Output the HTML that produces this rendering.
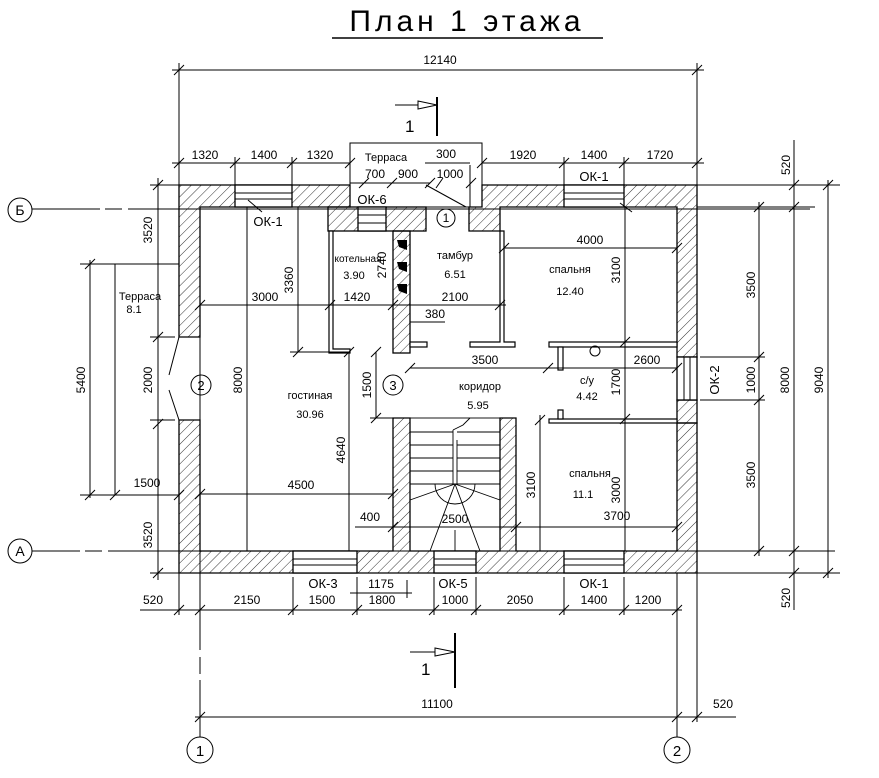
<!DOCTYPE html>
<html><head><meta charset="utf-8"><style>
html,body{margin:0;padding:0;background:#fff;}
svg{display:block;}
text{font-family:"Liberation Sans Narrow","Liberation Sans",sans-serif;fill:#000;}
</style></head><body>
<svg width="879" height="778" viewBox="0 0 879 778" xmlns="http://www.w3.org/2000/svg">
<defs>
<pattern id="h" patternUnits="userSpaceOnUse" width="7" height="7" patternTransform="rotate(45)">
<line x1="0" y1="0" x2="0" y2="7" stroke="#000" stroke-width="0.8"/>
</pattern>
</defs>
<g font-size="12">
<!-- title -->
<text x="467" y="31" font-size="30" text-anchor="middle" letter-spacing="4">План 1 этажа</text>
<line x1="332" y1="38" x2="603" y2="38" stroke="#000" stroke-width="1.5"/>

<g stroke="#000" stroke-width="1" fill="none">
<line x1="172" y1="70" x2="704" y2="70"/>
<line x1="179" y1="63" x2="179" y2="185"/><line x1="697" y1="63" x2="697" y2="185"/>
<line x1="174" y1="75" x2="184" y2="65"/><line x1="692" y1="75" x2="702" y2="65"/>
<line x1="172" y1="163" x2="350" y2="163"/>
<line x1="482" y1="163" x2="704" y2="163"/>
<line x1="235" y1="157" x2="235" y2="185"/><line x1="292" y1="157" x2="292" y2="185"/>
<line x1="564" y1="157" x2="564" y2="185"/><line x1="624" y1="157" x2="624" y2="185"/>
<g>
<line x1="174" y1="168" x2="184" y2="158"/><line x1="230" y1="168" x2="240" y2="158"/><line x1="287" y1="168" x2="297" y2="158"/><line x1="345" y1="168" x2="355" y2="158"/>
<line x1="477" y1="168" x2="487" y2="158"/><line x1="559" y1="168" x2="569" y2="158"/><line x1="619" y1="168" x2="629" y2="158"/><line x1="692" y1="168" x2="702" y2="158"/>
</g>
<line x1="437" y1="97" x2="437" y2="136" stroke-width="2"/>
<line x1="395" y1="105" x2="418" y2="105"/>
<polygon points="418,101 437,105 418,109"/>
<line x1="455" y1="633" x2="455" y2="688" stroke-width="2"/>
<line x1="410" y1="652" x2="435" y2="652"/>
<polygon points="435,648 455,652 435,656"/>

<rect x="350" y="143" width="132" height="64"/>
<line x1="425" y1="163" x2="470" y2="163"/>
<line x1="350" y1="183" x2="430" y2="183"/>
<line x1="359" y1="188" x2="369" y2="178"/><line x1="387" y1="188" x2="397" y2="178"/><line x1="425" y1="188" x2="435" y2="178"/>
<line x1="436" y1="188" x2="443" y2="178"/><line x1="466" y1="188" x2="476" y2="178"/>
<line x1="470" y1="165" x2="470" y2="207"/>
<line x1="426" y1="185" x2="466" y2="207"/>

<polyline points="179,264 115,264 115,495 179,495"/>
</g>

<g fill="url(#h)" stroke="#000" stroke-width="1.3">
<polygon points="179,185 350,185 350,207 200,207 200,337 179,337"/>
<polygon points="179,420 200,420 200,551 393,551 393,418 410,418 410,551 500,551 500,418 516,418 516,551 677,551 677,423 697,423 697,573 179,573"/>
<polygon points="482,185 697,185 697,357 677,357 677,207 500,207 500,231 469,231 469,207 482,207"/>
<rect x="677" y="400" width="20" height="23"/>
<rect x="328" y="207" width="98" height="24"/>
<rect x="393" y="231" width="17" height="122"/>
</g>
<g fill="#fff" stroke="#000" stroke-width="1.3">
<rect x="235" y="185" width="57" height="22"/>
<rect x="564" y="185" width="60" height="22"/>
<rect x="358" y="207" width="28" height="24"/>
<rect x="677" y="357" width="20" height="43"/>
<rect x="293" y="551" width="64" height="22"/>
<rect x="434" y="551" width="42" height="22"/>
<rect x="564" y="551" width="60" height="22"/>
</g>
<g stroke="#000" stroke-width="1" fill="none">
<line x1="235" y1="193" x2="292" y2="193"/><line x1="235" y1="199" x2="292" y2="199"/>
<line x1="564" y1="193" x2="624" y2="193"/><line x1="564" y1="199" x2="624" y2="199"/>
<line x1="358" y1="215" x2="386" y2="215"/><line x1="358" y1="223" x2="386" y2="223"/>
<line x1="684" y1="357" x2="684" y2="400"/><line x1="690" y1="357" x2="690" y2="400"/>
<line x1="293" y1="559" x2="357" y2="559"/><line x1="293" y1="565" x2="357" y2="565"/>
<line x1="434" y1="559" x2="476" y2="559"/><line x1="434" y1="565" x2="476" y2="565"/>
<line x1="564" y1="559" x2="624" y2="559"/><line x1="564" y1="565" x2="624" y2="565"/>
<line x1="179" y1="337" x2="169" y2="375"/><line x1="169" y1="390" x2="179" y2="420"/>
<line x1="248" y1="200" x2="262" y2="212"/>
<line x1="620" y1="203" x2="632" y2="212"/>
</g>
<g fill="#000">
<polygon points="397,240 407,240 407,250 399,247"/>
<polygon points="397,262 407,262 407,272 399,269"/>
<polygon points="397,284 407,284 407,294 399,291"/>
</g>
<g stroke="#000" stroke-width="1.2" fill="#fff">
<polygon points="329,231 333,231 333,349 350,349 350,353 329,353"/>
<polygon points="500,231 504,231 504,342 515,342 515,347 470,347 470,342 500,342"/>
<rect x="549" y="342" width="128" height="5"/>
<rect x="558" y="347" width="5" height="23"/>
<rect x="549" y="419" width="128" height="4"/>
<rect x="558" y="410" width="5" height="9"/>
<rect x="410" y="342" width="17" height="5"/>
</g>
<circle cx="595" cy="351" r="5" fill="none" stroke="#000"/>

<g stroke="#000" stroke-width="0.9" fill="none">
<rect x="410" y="418" width="90" height="133"/>
<line x1="410" y1="432" x2="453" y2="432"/><line x1="410" y1="445" x2="453" y2="445"/><line x1="410" y1="458" x2="453" y2="458"/><line x1="410" y1="471" x2="453" y2="471"/><line x1="410" y1="484" x2="455" y2="484"/>
<line x1="457" y1="432" x2="500" y2="432"/><line x1="457" y1="445" x2="500" y2="445"/><line x1="457" y1="458" x2="500" y2="458"/><line x1="457" y1="471" x2="500" y2="471"/><line x1="455" y1="484" x2="500" y2="484"/>
<line x1="453" y1="430" x2="453" y2="484"/><line x1="457" y1="440" x2="457" y2="484"/>
<polyline points="453,430 463,425 470,418"/>
<line x1="455" y1="484" x2="410" y2="500"/><line x1="455" y1="484" x2="430" y2="551"/><line x1="455" y1="484" x2="480" y2="551"/><line x1="455" y1="484" x2="500" y2="500"/>
<path d="M435,484 A20,20 0 0 0 475,484"/>
<line x1="455" y1="530" x2="455" y2="551"/>
</g>

<g stroke="#000" stroke-width="1" fill="none">
<circle cx="20" cy="210" r="12"/><circle cx="20" cy="551" r="12"/>
<line x1="32" y1="209" x2="100" y2="209"/><line x1="105" y1="209" x2="122" y2="209"/><line x1="128" y1="209" x2="810" y2="209"/>
<line x1="32" y1="551" x2="80" y2="551"/><line x1="85" y1="551" x2="102" y2="551"/><line x1="108" y1="551" x2="835" y2="551"/>
<circle cx="200" cy="750" r="13"/><circle cx="677" cy="750" r="13"/>
<line x1="200" y1="573" x2="200" y2="650"/><line x1="200" y1="657" x2="200" y2="674"/><line x1="200" y1="680" x2="200" y2="737"/>
<line x1="677" y1="573" x2="677" y2="737"/>
<line x1="697" y1="573" x2="697" y2="722"/>
<line x1="200" y1="207" x2="200" y2="600"/>

<line x1="158" y1="178" x2="158" y2="580"/>
<line x1="153" y1="190" x2="163" y2="180"/><line x1="153" y1="342" x2="163" y2="332"/><line x1="153" y1="429" x2="163" y2="419"/><line x1="153" y1="578" x2="163" y2="568"/>
<line x1="150" y1="185" x2="179" y2="185"/><line x1="150" y1="573" x2="179" y2="573"/>
<line x1="150" y1="337" x2="175" y2="337"/><line x1="150" y1="420" x2="175" y2="420"/>
<line x1="90" y1="260" x2="90" y2="498"/><line x1="80" y1="264" x2="115" y2="264"/><line x1="80" y1="495" x2="115" y2="495"/>
<line x1="85" y1="269" x2="95" y2="259"/><line x1="85" y1="500" x2="95" y2="490"/>
<line x1="110" y1="500" x2="120" y2="490"/><line x1="174" y1="500" x2="184" y2="490"/>

<line x1="140" y1="610" x2="682" y2="610"/>
<line x1="179" y1="573" x2="179" y2="615"/><line x1="293" y1="577" x2="293" y2="615"/><line x1="357" y1="577" x2="357" y2="615"/><line x1="434" y1="577" x2="434" y2="615"/><line x1="476" y1="577" x2="476" y2="615"/><line x1="564" y1="577" x2="564" y2="615"/><line x1="624" y1="577" x2="624" y2="615"/>
<line x1="174" y1="615" x2="184" y2="605"/><line x1="195" y1="615" x2="205" y2="605"/><line x1="288" y1="615" x2="298" y2="605"/><line x1="352" y1="615" x2="362" y2="605"/><line x1="429" y1="615" x2="439" y2="605"/><line x1="471" y1="615" x2="481" y2="605"/><line x1="559" y1="615" x2="569" y2="605"/><line x1="619" y1="615" x2="629" y2="605"/><line x1="672" y1="615" x2="682" y2="605"/>
<line x1="350" y1="593" x2="412" y2="593"/><line x1="407" y1="580" x2="407" y2="598"/>
<line x1="195" y1="717" x2="736" y2="717"/>
<line x1="195" y1="722" x2="205" y2="712"/><line x1="672" y1="722" x2="682" y2="712"/><line x1="692" y1="722" x2="702" y2="712"/>

<line x1="697" y1="185" x2="840" y2="185"/><line x1="697" y1="207" x2="815" y2="207"/>
<line x1="697" y1="573" x2="840" y2="573"/>
<line x1="700" y1="357" x2="765" y2="357"/><line x1="700" y1="400" x2="765" y2="400"/>
<line x1="759" y1="202" x2="759" y2="556"/>
<line x1="794" y1="140" x2="794" y2="610"/>
<line x1="828" y1="180" x2="828" y2="578"/>
<line x1="754" y1="212" x2="764" y2="202"/><line x1="754" y1="362" x2="764" y2="352"/><line x1="754" y1="405" x2="764" y2="395"/><line x1="754" y1="556" x2="764" y2="546"/>
<line x1="789" y1="190" x2="799" y2="180"/><line x1="789" y1="212" x2="799" y2="202"/><line x1="789" y1="556" x2="799" y2="546"/><line x1="789" y1="578" x2="799" y2="568"/>
<line x1="823" y1="190" x2="833" y2="180"/><line x1="823" y1="578" x2="833" y2="568"/>

<line x1="200" y1="305" x2="506" y2="305"/>
<line x1="195" y1="310" x2="205" y2="300"/><line x1="325" y1="310" x2="335" y2="300"/><line x1="388" y1="310" x2="398" y2="300"/><line x1="495" y1="310" x2="505" y2="300"/>
<line x1="298" y1="207" x2="298" y2="352"/><line x1="290" y1="352" x2="350" y2="352"/><line x1="293" y1="357" x2="303" y2="347"/>
<line x1="410" y1="322" x2="445" y2="322"/>
<line x1="504" y1="248" x2="677" y2="248"/><line x1="499" y1="253" x2="509" y2="243"/><line x1="672" y1="253" x2="682" y2="243"/>
<line x1="625" y1="207" x2="625" y2="551"/>
<line x1="620" y1="347" x2="630" y2="337"/><line x1="620" y1="424" x2="630" y2="414"/>
<line x1="410" y1="368" x2="677" y2="368"/><line x1="405" y1="373" x2="415" y2="363"/><line x1="543" y1="373" x2="553" y2="363"/><line x1="672" y1="373" x2="682" y2="363"/>
<line x1="247" y1="207" x2="247" y2="551"/>
<line x1="349" y1="352" x2="349" y2="551"/><line x1="344" y1="357" x2="354" y2="347"/>
<line x1="376" y1="352" x2="376" y2="418"/><line x1="371" y1="357" x2="381" y2="347"/><line x1="371" y1="423" x2="381" y2="413"/><line x1="370" y1="418" x2="393" y2="418"/>
<line x1="200" y1="494" x2="393" y2="494"/><line x1="195" y1="499" x2="205" y2="489"/><line x1="388" y1="499" x2="398" y2="489"/>
<line x1="355" y1="527" x2="677" y2="527"/><line x1="388" y1="532" x2="398" y2="522"/><line x1="511" y1="532" x2="521" y2="522"/><line x1="672" y1="532" x2="682" y2="522"/>
<line x1="540" y1="415" x2="540" y2="551"/><line x1="535" y1="425" x2="545" y2="415"/>

<circle cx="446" cy="218" r="9"/><circle cx="201" cy="385" r="10"/><circle cx="393" cy="385" r="10"/>
</g>

<g font-size="12">
<text x="440" y="64" text-anchor="middle">12140</text>
<text x="205" y="159" text-anchor="middle">1320</text><text x="264" y="159" text-anchor="middle">1400</text><text x="320" y="159" text-anchor="middle">1320</text>
<text x="523" y="159" text-anchor="middle">1920</text><text x="594" y="159" text-anchor="middle">1400</text><text x="660" y="159" text-anchor="middle">1720</text>
<text x="386" y="161" text-anchor="middle" font-size="11">Терраса</text>
<text x="446" y="158" text-anchor="middle">300</text>
<text x="375" y="178" text-anchor="middle">700</text><text x="408" y="178" text-anchor="middle">900</text><text x="450" y="178" text-anchor="middle">1000</text>
<text x="372" y="204" text-anchor="middle" font-size="13">ОК-6</text>
<text x="268" y="226" text-anchor="middle" font-size="13">ОК-1</text>
<text x="594" y="181" text-anchor="middle" font-size="13">ОК-1</text>
<text x="405" y="132" font-size="17">1</text>
<text x="421" y="675" font-size="17">1</text>
<text x="446" y="222" text-anchor="middle" font-size="12">1</text>
<text x="201" y="390" text-anchor="middle" font-size="13">2</text>
<text x="393" y="390" text-anchor="middle" font-size="13">3</text>
<text x="20" y="215" text-anchor="middle" font-size="14">Б</text>
<text x="20" y="556" text-anchor="middle" font-size="14">А</text>
<text x="200" y="756" text-anchor="middle" font-size="15">1</text>
<text x="677" y="756" text-anchor="middle" font-size="15">2</text>

<text x="140" y="300" text-anchor="middle" font-size="11">Терраса</text>
<text x="134" y="313" text-anchor="middle" font-size="11">8.1</text>
<text x="147" y="487" text-anchor="middle">1500</text>
<text transform="translate(152,230) rotate(-90)" text-anchor="middle">3520</text>
<text transform="translate(152,380) rotate(-90)" text-anchor="middle">2000</text>
<text transform="translate(152,535) rotate(-90)" text-anchor="middle">3520</text>
<text transform="translate(85,380) rotate(-90)" text-anchor="middle">5400</text>

<text x="153" y="604" text-anchor="middle">520</text><text x="247" y="604" text-anchor="middle">2150</text><text x="322" y="604" text-anchor="middle">1500</text><text x="382" y="604" text-anchor="middle">1800</text><text x="455" y="604" text-anchor="middle">1000</text><text x="520" y="604" text-anchor="middle">2050</text><text x="594" y="604" text-anchor="middle">1400</text><text x="648" y="604" text-anchor="middle">1200</text>
<text x="323" y="588" text-anchor="middle" font-size="13">ОК-3</text>
<text x="381" y="588" text-anchor="middle">1175</text>
<text x="453" y="588" text-anchor="middle" font-size="13">ОК-5</text>
<text x="594" y="588" text-anchor="middle" font-size="13">ОК-1</text>
<text x="437" y="708" text-anchor="middle">11100</text>
<text x="723" y="708" text-anchor="middle">520</text>

<text transform="translate(790,165) rotate(-90)" text-anchor="middle">520</text>
<text transform="translate(790,598) rotate(-90)" text-anchor="middle">520</text>
<text transform="translate(755,285) rotate(-90)" text-anchor="middle">3500</text>
<text transform="translate(755,380) rotate(-90)" text-anchor="middle">1000</text>
<text transform="translate(755,475) rotate(-90)" text-anchor="middle">3500</text>
<text transform="translate(789,380) rotate(-90)" text-anchor="middle">8000</text>
<text transform="translate(823,380) rotate(-90)" text-anchor="middle">9040</text>
<text transform="translate(719,380) rotate(-90)" text-anchor="middle" font-size="13">ОК-2</text>

<text x="265" y="301" text-anchor="middle">3000</text><text x="357" y="301" text-anchor="middle">1420</text><text x="455" y="301" text-anchor="middle">2100</text>
<text x="435" y="318" text-anchor="middle">380</text>
<text transform="translate(293,280) rotate(-90)" text-anchor="middle">3360</text>
<text transform="translate(386,265) rotate(-90)" text-anchor="middle">2740</text>
<text x="590" y="244" text-anchor="middle">4000</text>
<text transform="translate(620,270) rotate(-90)" text-anchor="middle">3100</text>
<text x="485" y="364" text-anchor="middle">3500</text><text x="647" y="364" text-anchor="middle">2600</text>
<text transform="translate(620,382) rotate(-90)" text-anchor="middle">1700</text>
<text transform="translate(620,490) rotate(-90)" text-anchor="middle">3000</text>
<text transform="translate(535,485) rotate(-90)" text-anchor="middle">3100</text>
<text x="617" y="520" text-anchor="middle">3700</text>
<text x="455" y="523" text-anchor="middle">2500</text>
<text x="370" y="521" text-anchor="middle">400</text>
<text x="301" y="489" text-anchor="middle">4500</text>
<text transform="translate(242,380) rotate(-90)" text-anchor="middle">8000</text>
<text transform="translate(345,450) rotate(-90)" text-anchor="middle">4640</text>
<text transform="translate(371,385) rotate(-90)" text-anchor="middle">1500</text>

<g font-size="11">
<text x="358" y="262" text-anchor="middle" font-size="10">котельная</text><text x="354" y="279" text-anchor="middle">3.90</text>
<text x="455" y="259" text-anchor="middle">тамбур</text><text x="455" y="278" text-anchor="middle">6.51</text>
<text x="570" y="273" text-anchor="middle">спальня</text><text x="570" y="295" text-anchor="middle">12.40</text>
<text x="310" y="399" text-anchor="middle">гостиная</text><text x="310" y="418" text-anchor="middle">30.96</text>
<text x="480" y="390" text-anchor="middle">коридор</text><text x="478" y="409" text-anchor="middle">5.95</text>
<text x="587" y="384" text-anchor="middle">с/у</text><text x="587" y="400" text-anchor="middle">4.42</text>
<text x="590" y="477" text-anchor="middle">спальня</text><text x="583" y="498" text-anchor="middle">11.1</text>
</g>
</g>
</g>
</svg>
</body></html>
